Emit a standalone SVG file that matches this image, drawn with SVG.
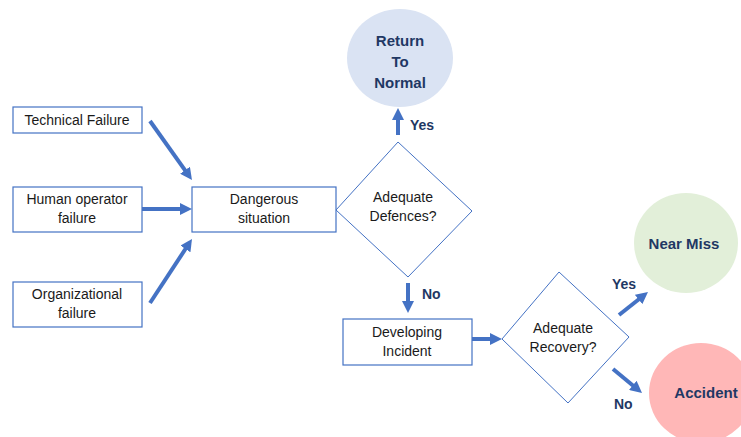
<svg xmlns="http://www.w3.org/2000/svg" width="741" height="437" viewBox="0 0 741 437">
<defs>
<marker id="ah" markerUnits="userSpaceOnUse" markerWidth="13" markerHeight="12" refX="6" refY="6" orient="auto">
<path d="M0,0 L12,6 L0,12 z" fill="#4472c4"/>
</marker>
<style>
.box{fill:#fff;stroke:#4472c4;stroke-width:1.2}
.dia{fill:#fff;stroke:#4472c4;stroke-width:1}
.t{font-family:"Liberation Sans",Arial,sans-serif;font-size:14px;fill:#1a1a1a;text-anchor:middle}
.b{font-family:"Liberation Sans",Arial,sans-serif;font-size:15px;font-weight:bold;fill:#1f3864;text-anchor:middle}
.lbl{font-family:"Liberation Sans",Arial,sans-serif;font-size:14px;font-weight:bold;fill:#1f3864}
.c{stroke:#4472c4;stroke-width:4;fill:none;marker-end:url(#ah)}
</style>
</defs>
<rect width="741" height="437" fill="#fff"/>
<g id="technical">
<rect class="box" x="13" y="107" width="129" height="26"/>
<text class="t" x="77" y="125">Technical Failure</text>
</g>
<g id="human">
<rect class="box" x="13" y="187" width="129" height="45"/>
<text class="t" x="77" y="204">Human operator</text>
<text class="t" x="77" y="223">failure</text>
</g>
<g id="organizational">
<rect class="box" x="13" y="282" width="129" height="45"/>
<text class="t" x="77" y="299">Organizational</text>
<text class="t" x="77" y="318">failure</text>
</g>
<g id="dangerous">
<rect class="box" x="192" y="187" width="144" height="45"/>
<text class="t" x="264" y="204">Dangerous</text>
<text class="t" x="264" y="223">situation</text>
</g>
<g id="defences">
<polygon class="dia" points="336,210 398,142 472,211 408,277"/>
<text class="t" x="403" y="202">Adequate</text>
<text class="t" x="403" y="221">Defences?</text>
</g>
<g id="normal">
<ellipse cx="400" cy="58" rx="53" ry="49" fill="#dae3f3"/>
<text class="b" x="400" y="46">Return</text>
<text class="b" x="400" y="67">To</text>
<text class="b" x="400" y="88">Normal</text>
</g>
<g id="developing">
<rect class="box" x="343" y="319" width="129" height="46"/>
<text class="t" x="407" y="337">Developing</text>
<text class="t" x="407" y="356">Incident</text>
</g>
<g id="recovery">
<polygon class="dia" points="502,339 559,272 629,337 568,403"/>
<text class="t" x="563" y="333">Adequate</text>
<text class="t" x="563" y="352">Recovery?</text>
</g>
<g id="nearmiss">
<ellipse cx="686" cy="243" rx="52" ry="50" fill="#e2efd9"/>
<text class="b" x="684" y="249">Near Miss</text>
</g>
<g id="accident">
<ellipse cx="701" cy="393" rx="52" ry="50" fill="#ffb7b7"/>
<text class="b" x="706" y="398">Accident</text>
</g>
<g id="connectors">
<line class="c" x1="150" y1="121" x2="188.5" y2="175.1"/>
<line class="c" x1="142" y1="209" x2="186" y2="209"/>
<line class="c" x1="150" y1="303" x2="188.7" y2="244"/>
<line class="c" x1="398" y1="135" x2="398" y2="114"/>
<line class="c" x1="408" y1="283" x2="408" y2="307"/>
<line class="c" x1="472" y1="339" x2="496" y2="339"/>
<line class="c" x1="619" y1="315" x2="643.3" y2="295.7"/>
<line class="c" x1="613" y1="369" x2="637.4" y2="389.2"/>
<text class="lbl" x="410" y="130">Yes</text>
<text class="lbl" x="422" y="299">No</text>
<text class="lbl" x="612" y="289">Yes</text>
<text class="lbl" x="614" y="409">No</text>
</g>
</svg>
